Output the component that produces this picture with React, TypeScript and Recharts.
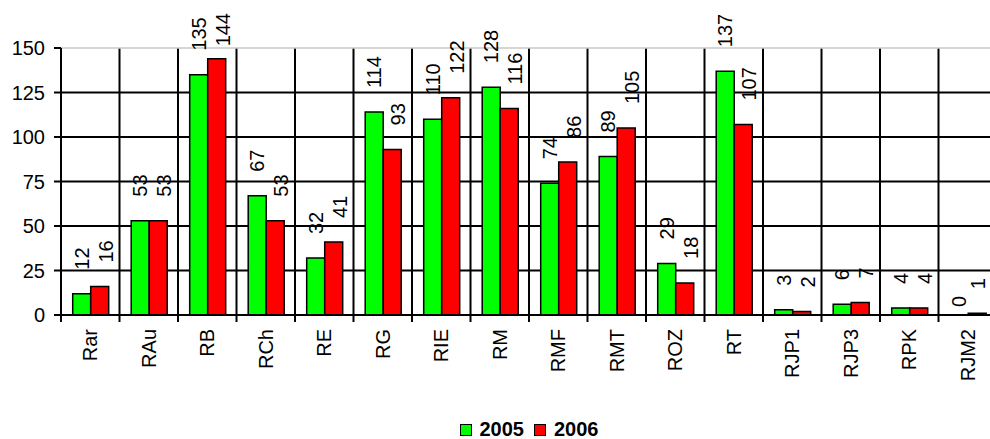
import { BarChart, Bar, XAxis, YAxis, CartesianGrid, ReferenceLine, LabelList, Legend } from "recharts";

const categories = ["Rar", "RAu", "RB", "RCh", "RE", "RG", "RIE", "RM", "RMF", "RMT", "ROZ", "RT", "RJP1", "RJP3", "RPK", "RJM2"];
const values2005 = [12, 53, 135, 67, 32, 114, 110, 128, 74, 89, 29, 137, 3, 6, 4, 0];
const values2006 = [16, 53, 144, 53, 41, 93, 122, 116, 86, 105, 18, 107, 2, 7, 4, 1];
const yTicks = [0, 25, 50, 75, 100, 125, 150];

const data = categories.map((name, i) => ({ name, y2005: values2005[i], y2006: values2006[i] }));

const FONT = '"Liberation Sans", Arial, sans-serif';
const W = 1000;
const H = 439;
const LEFT = 61;
const RIGHT = 3;
const TOP = 48;
const AXIS_H = 124;
const PLOT_W = W - LEFT - RIGHT;
const BAND = PLOT_W / categories.length;
const FS = 20;

const CategoryTick = (props: any) => {
  const { x, y, payload } = props;
  const bx = x - BAND / 2;
  const ty = y + 14;
  return (
    <g>
      <line x1={bx} y1={y} x2={bx} y2={y + 7} stroke="#000" strokeWidth={2} />
      <text
        x={x}
        y={ty}
        transform={`rotate(-90 ${x} ${ty})`}
        textAnchor="end"
        dy="0.35em"
        fontSize={FS}
        fontFamily={FONT}
        fill="#000"
      >
        {payload.value}
      </text>
    </g>
  );
};

const VLabel = ({ cx, top, gap, value }: { cx: number; top: number; gap: number; value: number }) => {
  const len = String(value).length * FS * 0.556;
  const bottom = Math.max(top - gap, 13 + len);
  const x = Math.min(cx, 978);
  return (
    <text
      x={x}
      y={bottom}
      transform={`rotate(-90 ${x} ${bottom})`}
      textAnchor="start"
      dy="0.35em"
      fontSize={FS}
      fontFamily={FONT}
      fill="#000"
    >
      {value}
    </text>
  );
};

const label2005 = (props: any) => {
  const { x, y, width, value } = props;
  return <VLabel cx={x + width / 2} top={y} gap={24} value={value} />;
};

// the red series also places the 2005 label where a zero-height green bar gives none
const label2006 = (props: any) => {
  const { x, y, width, height, value, index } = props;
  const g = values2005[index];
  return (
    <g>
      <VLabel cx={x + width / 2 + 6} top={y} gap={24} value={value} />
      {g === 0 && <VLabel cx={x - width / 2} top={y + height} gap={8} value={g} />}
    </g>
  );
};

const LegendContent = () => (
  <div style={{ textAlign: "center", fontFamily: FONT, fontWeight: "bold", fontSize: 20, lineHeight: "26px" }}>
    <span style={{ display: "inline-block", width: 10, height: 10, background: "#00ff00", border: "1.5px solid #000", marginRight: 8 }} />
    <span style={{ marginRight: 10 }}>2005</span>
    <span style={{ display: "inline-block", width: 10, height: 10, background: "#ff0000", border: "1.5px solid #000", marginRight: 8 }} />
    <span>2006</span>
  </div>
);

export default function App() {
  return (
    <div style={{ position: "fixed", left: 0, top: 0, width: 990, height: 439, overflow: "hidden", background: "#fff" }}>
      <BarChart
        width={W}
        height={H}
        data={data}
        margin={{ top: TOP, right: RIGHT, left: 0, bottom: 0 }}
        barCategoryGap="20%"
        barGap={0}
      >
        <CartesianGrid
          stroke="#000"
          strokeWidth={2}
          horizontalCoordinatesGenerator={({ offset }: any) =>
            [25, 50, 75, 100, 125].map((v) => offset.top + offset.height * (1 - v / 150))
          }
          verticalCoordinatesGenerator={({ offset }: any) =>
            categories.map((_, i) => offset.left + (i + 1) * (offset.width / categories.length))
          }
        />
        <ReferenceLine y={150} stroke="#c8c8c8" strokeWidth={1.5} />
        <XAxis
          dataKey="name"
          height={AXIS_H}
          interval={0}
          axisLine={{ stroke: "#000", strokeWidth: 2 }}
          tickLine={false}
          tickSize={0}
          tickMargin={0}
          tick={<CategoryTick />}
        />
        <YAxis
          width={LEFT}
          domain={[0, 150]}
          ticks={yTicks}
          interval={0}
          axisLine={{ stroke: "#000", strokeWidth: 2 }}
          tickLine={{ stroke: "#000", strokeWidth: 2 }}
          tickSize={7}
          tickMargin={9}
          tick={{ fontSize: FS, fontFamily: FONT, fill: "#000" }}
        />
        <Legend
          layout="horizontal"
          verticalAlign="middle"
          align="center"
          wrapperStyle={{ top: 416, left: LEFT, width: PLOT_W }}
          content={<LegendContent />}
        />
        <Bar dataKey="y2005" name="2005" fill="#00ff00" stroke="#000" strokeWidth={1.5} isAnimationActive={false}>
          <LabelList dataKey="y2005" content={label2005} />
        </Bar>
        <Bar dataKey="y2006" name="2006" fill="#ff0000" stroke="#000" strokeWidth={1.5} isAnimationActive={false}>
          <LabelList dataKey="y2006" content={label2006} />
        </Bar>
      </BarChart>
    </div>
  );
}
